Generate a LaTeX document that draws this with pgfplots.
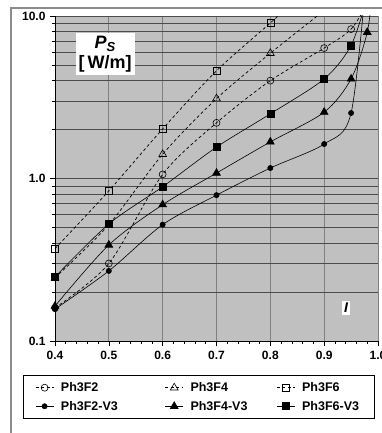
\documentclass[border=0pt]{standalone}
\usepackage{pgfplots}
\pgfplotsset{compat=1.18}
\usepackage{fontspec}
\setmainfont{Liberation Sans}
\definecolor{bgray}{HTML}{C0C0C0}

\begin{document}
\begin{tikzpicture}
\draw[black!45, line width=1.2pt] (11pt,-10pt) -- (11pt,425pt) -- (400pt,425pt);
\begin{axis}[
  at={(55pt,92pt)}, anchor=south west,
  scale only axis, width=323pt, height=325pt,
  xmin=0.4, xmax=1.0, ymode=log, ymin=0.1, ymax=10,
  axis background/.style={fill=bgray},
  axis x line*=bottom, axis y line*=left,
  axis line style={black, line width=0.8pt},
  xtick={0.4,0.5,0.6,0.7,0.8,0.9,1.0},
  xticklabels={0.4,0.5,0.6,0.7,0.8,0.9,1.0},
  minor x tick num=4,
  ytick={0.1,1,10}, yticklabels={0.1,1.0,10.0},
  minor ytick={0.2,0.3,0.4,0.5,0.6,0.7,0.8,0.9,2,3,4,5,6,7,8,9},
  xmajorgrids=true, xminorgrids=false,
  ymajorgrids=true, yminorgrids=true,
  major grid style={black!70, line width=0.6pt},
  minor grid style={black!70, line width=0.6pt},
  x grid style={black!50, line width=0.7pt},
  tick align=outside, tick pos=left,
  major tick length=5pt, minor tick length=3pt,
  every tick/.style={black, line width=0.6pt},
  tick label style={font=\bfseries\fontsize{12}{14}\selectfont},
  xticklabel style={yshift=-2pt},
  yticklabel style={xshift=-1pt},
  legend columns=3,
  legend style={at={(-0.099,-0.105)}, anchor=north west, draw=black, fill=white,
    line width=0.6pt,
    font=\bfseries\fontsize{12.5}{14}\selectfont,
    inner xsep=12pt, inner ysep=6pt, row sep=6pt,
    nodes={inner xsep=0pt, inner ysep=1pt},
    cells={anchor=west},
    /tikz/every odd column/.append style={column sep=7pt}},
  legend image code/.code={\draw[mark repeat=2, mark phase=2, line width=0.6pt, #1] plot coordinates {(0pt,0pt) (9pt,0pt) (18pt,0pt)};},
  every axis plot/.append style={black, line width=0.6pt},
]
% Ph3F2
\addplot[smooth, dash pattern=on 3pt off 2.5pt, line width=0.7pt, mark=o, mark size=3.5pt, mark options={solid, line width=0.6pt}]
  coordinates {(0.4,0.16) (0.5,0.30) (0.6,1.06) (0.7,2.2) (0.8,4.0) (0.9,6.35) (0.95,8.3) (0.98,12)};
\addlegendentry{\makebox[104pt][l]{Ph3F2}}
% Ph3F4
\addplot[smooth, dash pattern=on 3pt off 2.5pt, line width=0.7pt, mark=triangle, mark size=4.5pt, mark options={solid, line width=0.6pt}]
  coordinates {(0.4,0.245) (0.5,0.52) (0.6,1.41) (0.7,3.1) (0.8,5.9) (0.9,10.8)};
\addlegendentry{\makebox[86pt][l]{Ph3F4}}
% Ph3F6
\addplot[smooth, dash pattern=on 3pt off 2.5pt, line width=0.7pt, mark=square, mark size=3.5pt, mark options={solid, line width=0.6pt}]
  coordinates {(0.4,0.37) (0.5,0.84) (0.6,2.02) (0.7,4.6) (0.8,9.06) (0.9,18)};
\addlegendentry{\makebox[60pt][l]{Ph3F6}}
% Ph3F2-V3
\addplot[smooth, mark=*, mark size=2.6pt]
  coordinates {(0.4,0.157) (0.5,0.27) (0.6,0.52) (0.7,0.79) (0.8,1.16) (0.9,1.63) (0.95,2.53) (0.98,20)};
\addlegendentry{\makebox[104pt][l]{Ph3F2-V3}}
% Ph3F4-V3
\addplot[smooth, mark=triangle*, mark size=4.5pt]
  coordinates {(0.4,0.164) (0.5,0.39) (0.6,0.69) (0.7,1.08) (0.8,1.68) (0.9,2.56) (0.95,4.1) (0.98,7.95) (0.99,15)};
\addlegendentry{\makebox[86pt][l]{Ph3F4-V3}}
% Ph3F6-V3
\addplot[smooth, mark=square*, mark size=3.5pt]
  coordinates {(0.4,0.248) (0.5,0.525) (0.6,0.89) (0.7,1.56) (0.8,2.5) (0.9,4.1) (0.95,6.6) (0.98,13)};
\addlegendentry{\makebox[60pt][l]{Ph3F6-V3}}

\node[fill=white, inner sep=3pt, align=center, font=\bfseries\fontsize{18}{20}\selectfont]
  at (rel axis cs:0.155,0.883) {\textit{P}\raisebox{-3pt}{\fontsize{13}{14}\selectfont\textit{S}}\\[0pt][\,W/m]};
\node[fill=white, inner sep=2pt, font=\bfseries\itshape\fontsize{14}{15}\selectfont]
  at (rel axis cs:0.901,0.1015) {I};
\end{axis}
\pgfresetboundingbox
\useasboundingbox (0pt,0pt) rectangle (381pt,433pt);
\end{tikzpicture}
\end{document}
